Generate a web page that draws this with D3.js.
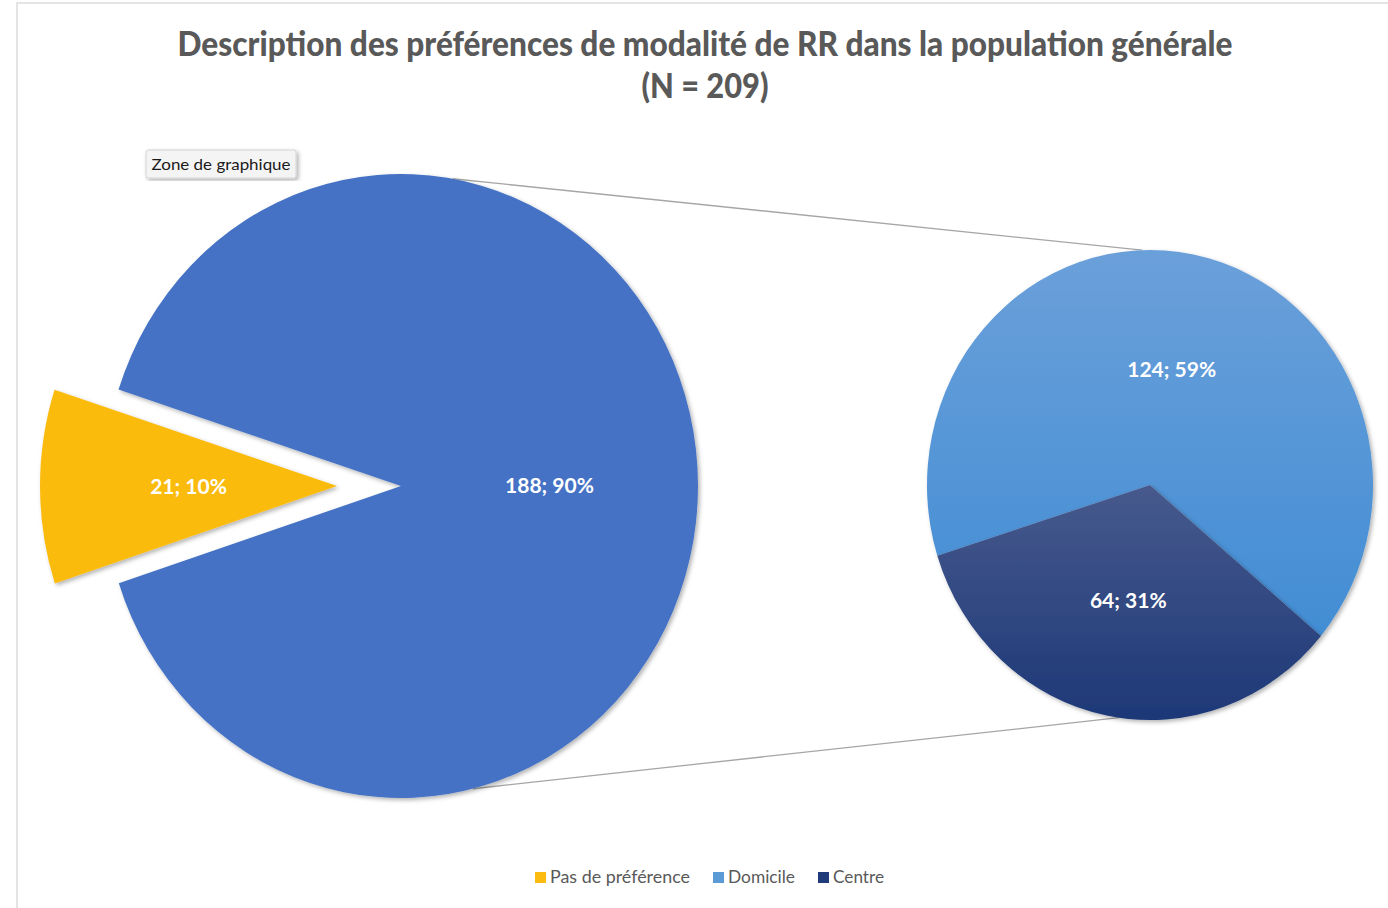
<!DOCTYPE html>
<html>
<head>
<meta charset="utf-8">
<script src="https://cdn.jsdelivr.net/npm/d3@7"></script>
<style>
  body { margin: 0; background: #fff; }
  svg { display: block; }
</style>
</head>
<body>
<div id="chart"></div>
<script>

// data
const title = ["Description des préférences de modalité de RR dans la population générale", "(N = 209)"];
const mainLabels = ["Autre", "Pas de préférence"];
const mainValues = [188, 21];
const subLabels = ["Domicile", "Centre"];
const subValues = [124, 64];
const legendLabels = ["Pas de préférence", "Domicile", "Centre"];
const total = 209;

const width = 1388, height = 908;

const svg = d3.select("#chart")
    .append("svg")
    .attr("width", width)
    .attr("height", height);

const defs = svg.append("defs");

const shadow = defs.append("filter")
    .attr("id", "shadow")
    .attr("x", "-10%").attr("y", "-10%")
    .attr("width", "120%").attr("height", "120%");
shadow.append("feDropShadow")
    .attr("dx", 2).attr("dy", 2)
    .attr("stdDeviation", 2)
    .attr("flood-color", "#000")
    .attr("flood-opacity", 0.3);

function addGradient(id, c1, c2) {
    const g = defs.append("linearGradient")
        .attr("id", id)
        .attr("x1", 0).attr("y1", 0)
        .attr("x2", 0).attr("y2", 1);
    g.append("stop").attr("offset", "0%").attr("stop-color", c1);
    g.append("stop").attr("offset", "100%").attr("stop-color", c2);
}
addGradient("gradDomicile", "#6ba0da", "#428dd4");
addGradient("gradCentre", "#475a8d", "#1d3877");

// chart frame
svg.append("rect")
    .attr("x", 17).attr("y", 3)
    .attr("width", 1400).attr("height", 930)
    .style("fill", "#fff")
    .style("stroke", "#dcdcdc")
    .style("stroke-width", 1.5);

// title
svg.append("text")
    .attr("x", 705).attr("y", 56)
    .attr("text-anchor", "middle")
    .attr("textLength", 1055)
    .attr("lengthAdjust", "spacingAndGlyphs")
    .style("font-family", "Lato, 'Open Sans', sans-serif")
    .style("font-weight", "900")
    .style("font-size", "34px")
    .style("fill", "#595959")
    .text(title[0]);

svg.append("text")
    .attr("x", 705).attr("y", 98)
    .attr("text-anchor", "middle")
    .attr("textLength", 127)
    .attr("lengthAdjust", "spacingAndGlyphs")
    .style("font-family", "Lato, 'Open Sans', sans-serif")
    .style("font-weight", "900")
    .style("font-size", "34px")
    .style("fill", "#595959")
    .text(title[1]);

const deg = Math.PI / 180;

// main pie geometry (slightly stretched vertically like the source)
const main = { cx: 401, cy: 486, rx: 297, ry: 312, explode: 64 };
const sub = { cx: 1150, cy: 485, rx: 223, ry: 235 };

const mainPie = d3.pie().sort(null).value(d => d.value)
    .startAngle(-72 * deg).endAngle(288 * deg);
const subPie = d3.pie().sort(null).value(d => d.value)
    .startAngle(252.5 * deg).endAngle(612.5 * deg);

const mainData = mainPie(mainLabels.map((l, i) => ({ label: l, value: mainValues[i] })));
const subData = subPie(subLabels.map((l, i) => ({ label: l, value: subValues[i] })));

// connector lines
function pointOn(p, a) {
    return [p.cx + p.rx * Math.sin(a * deg), p.cy - p.ry * Math.cos(a * deg)];
}
const connectors = [
    [pointOn(main, 10), pointOn(sub, -2)],
    [pointOn(main, 166), pointOn(sub, 188)]
];
svg.selectAll(".connector")
    .data(connectors)
    .enter()
    .append("line")
    .attr("class", "connector")
    .attr("x1", d => d[0][0]).attr("y1", d => d[0][1])
    .attr("x2", d => d[1][0]).attr("y2", d => d[1][1])
    .style("stroke", "#a6a6a6")
    .style("stroke-width", 1.3);

const mainColors = ["#4472c4", "#fbbb10"];
const subColors = ["url(#gradDomicile)", "url(#gradCentre)"];

const mainArc = d3.arc().innerRadius(0).outerRadius(main.rx);
const subArc = d3.arc().innerRadius(0).outerRadius(sub.rx);

function offsetFor(d, i) {
    if (i !== 1) return [0, 0];
    const a = (d.startAngle + d.endAngle) / 2;
    return [main.explode * Math.sin(a), -main.explode * Math.cos(a)];
}

const mainG = svg.append("g")
    .attr("transform", `translate(${main.cx},${main.cy}) scale(1,${main.ry / main.rx})`);

mainG.selectAll("path")
    .data(mainData)
    .enter()
    .append("path")
    .attr("transform", (d, i) => {
        const o = offsetFor(d, i);
        return `translate(${o[0]},${o[1]})`;
    })
    .attr("d", mainArc)
    .style("fill", (d, i) => mainColors[i])
    .attr("filter", "url(#shadow)");

const subG = svg.append("g")
    .attr("transform", `translate(${sub.cx},${sub.cy}) scale(1,${sub.ry / sub.rx})`);

subG.selectAll("path")
    .data(subData)
    .enter()
    .append("path")
    .attr("d", subArc)
    .style("fill", (d, i) => subColors[i])
    .attr("filter", "url(#shadow)");

// data labels
function labelText(v) {
    return v + "; " + Math.round(v / total * 100) + "%";
}
const labelArcMain = d3.arc().innerRadius(main.rx * 0.5).outerRadius(main.rx * 0.5);
const labelArcSub = d3.arc().innerRadius(sub.rx * 0.5).outerRadius(sub.rx * 0.5);

const labels = [];
mainData.forEach((d, i) => {
    const c = labelArcMain.centroid(d);
    const o = offsetFor(d, i);
    labels.push({ x: main.cx + c[0] + o[0], y: main.cy + (c[1] + o[1]) * main.ry / main.rx, t: labelText(d.value) });
});
subData.forEach(d => {
    const c = labelArcSub.centroid(d);
    labels.push({ x: sub.cx + c[0], y: sub.cy + c[1] * sub.ry / sub.rx, t: labelText(d.value) });
});

svg.selectAll(".dlabel")
    .data(labels)
    .enter()
    .append("text")
    .attr("class", "dlabel")
    .attr("x", d => d.x)
    .attr("y", d => d.y)
    .attr("dy", "0.35em")
    .attr("text-anchor", "middle")
    .style("font-family", "Lato, 'Open Sans', sans-serif")
    .style("font-weight", "bold")
    .style("font-size", "21px")
    .style("fill", "#fff")
    .text(d => d.t);

// legend
const legendColors = ["#fbbb10", "#5b9bd5", "#1f3b7a"];
const legendX = [535, 713, 818];
const legendW = [140, 67, 51];

const legend = svg.selectAll(".legend")
    .data(legendLabels)
    .enter()
    .append("g")
    .attr("class", "legend")
    .attr("transform", (d, i) => `translate(${legendX[i]},877)`);

legend.append("rect")
    .attr("x", 0).attr("y", -5)
    .attr("width", 11).attr("height", 11)
    .style("fill", (d, i) => legendColors[i]);

legend.append("text")
    .attr("x", 15)
    .attr("y", 0)
    .attr("dy", "0.35em")
    .attr("textLength", (d, i) => legendW[i])
    .attr("lengthAdjust", "spacingAndGlyphs")
    .style("font-family", "Lato, 'Open Sans', sans-serif")
    .style("font-size", "18px")
    .style("fill", "#595959")
    .text(d => d);

// "Zone de graphique" tooltip
const tip = svg.append("g").attr("transform", "translate(146,150)");
tip.append("rect")
    .attr("width", 150).attr("height", 28)
    .attr("rx", 2)
    .style("fill", "#f4f4f4")
    .style("stroke", "#d4d4d4")
    .attr("filter", "url(#shadow)");
tip.append("text")
    .attr("x", 75).attr("y", 14)
    .attr("dy", "0.35em")
    .attr("text-anchor", "middle")
    .attr("textLength", 139)
    .attr("lengthAdjust", "spacingAndGlyphs")
    .style("font-family", "Lato, 'Open Sans', sans-serif")
    .style("font-size", "16px")
    .style("fill", "#1a1a1a")
    .text("Zone de graphique");

</script>
</body>
</html>
